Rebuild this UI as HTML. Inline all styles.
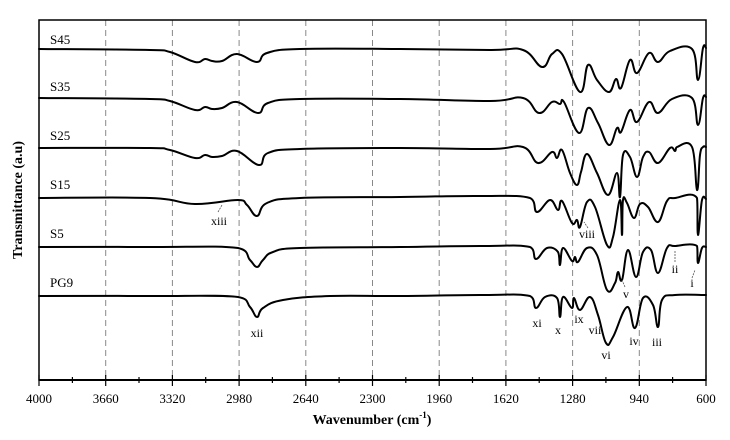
<!DOCTYPE html>
<html><head><meta charset="utf-8"><style>
body{margin:0;background:#fff}
svg{display:block}
text{font-family:"Liberation Serif",serif;fill:#000}
</style></head><body>
<svg width="730" height="440" viewBox="0 0 730 440" xmlns="http://www.w3.org/2000/svg">
<rect x="0" y="0" width="730" height="440" fill="#fff"/>
<g stroke="#888" stroke-width="1" stroke-dasharray="6,4">
<line x1="105.7" y1="20" x2="105.7" y2="380"/><line x1="172.4" y1="20" x2="172.4" y2="380"/>
<line x1="239.1" y1="20" x2="239.1" y2="380"/><line x1="305.8" y1="20" x2="305.8" y2="380"/>
<line x1="372.5" y1="20" x2="372.5" y2="380"/><line x1="439.2" y1="20" x2="439.2" y2="380"/>
<line x1="505.9" y1="20" x2="505.9" y2="380"/><line x1="572.6" y1="20" x2="572.6" y2="380"/>
<line x1="639.3" y1="20" x2="639.3" y2="380"/>
</g>
<rect x="39" y="20" width="667" height="360" fill="none" stroke="#000" stroke-width="1.5"/>
<line x1="39" y1="380" x2="706" y2="380" stroke="#000" stroke-width="2"/>
<g stroke="#000" stroke-width="1.2">
<line x1="39" y1="375" x2="39" y2="386"/><line x1="72.4" y1="377" x2="72.4" y2="383"/>
<line x1="105.7" y1="375" x2="105.7" y2="386"/><line x1="139" y1="377" x2="139" y2="383"/>
<line x1="172.4" y1="375" x2="172.4" y2="386"/><line x1="205.7" y1="377" x2="205.7" y2="383"/>
<line x1="239.1" y1="375" x2="239.1" y2="386"/><line x1="272.4" y1="377" x2="272.4" y2="383"/>
<line x1="305.8" y1="375" x2="305.8" y2="386"/><line x1="339.1" y1="377" x2="339.1" y2="383"/>
<line x1="372.5" y1="375" x2="372.5" y2="386"/><line x1="405.8" y1="377" x2="405.8" y2="383"/>
<line x1="439.2" y1="375" x2="439.2" y2="386"/><line x1="472.5" y1="377" x2="472.5" y2="383"/>
<line x1="505.9" y1="375" x2="505.9" y2="386"/><line x1="539.2" y1="377" x2="539.2" y2="383"/>
<line x1="572.6" y1="375" x2="572.6" y2="386"/><line x1="605.9" y1="377" x2="605.9" y2="383"/>
<line x1="639.3" y1="375" x2="639.3" y2="386"/><line x1="672.6" y1="377" x2="672.6" y2="383"/>
<line x1="706" y1="375" x2="706" y2="386"/>
</g>
<g font-size="13" text-anchor="middle">
<text x="39" y="403">4000</text><text x="105.7" y="403">3660</text><text x="172.4" y="403">3320</text>
<text x="239.1" y="403">2980</text><text x="305.8" y="403">2640</text><text x="372.5" y="403">2300</text>
<text x="439.2" y="403">1960</text><text x="505.9" y="403">1620</text><text x="572.6" y="403">1280</text>
<text x="639.3" y="403">940</text><text x="706" y="403">600</text>
</g>
<text x="372" y="424" font-size="14" font-weight="bold" text-anchor="middle">Wavenumber (cm<tspan font-size="9" dy="-6">-1</tspan><tspan dy="6">)</tspan></text>
<text transform="translate(22,200) rotate(-90)" font-size="14" font-weight="bold" text-anchor="middle">Transmittance (a.u)</text>
<g font-size="13">
<text x="50" y="44">S45</text><text x="50" y="91">S35</text><text x="50" y="140">S25</text>
<text x="50" y="189">S15</text><text x="50" y="238">S5</text><text x="50" y="287">PG9</text>
</g>
<g id="tr" fill="none" stroke="#000" stroke-width="2" stroke-linejoin="round" stroke-linecap="round">
<path d="M39,49 L150,50 L170,52 L195,62 L205,59 L212,61 L222,61 L237,54 L257,62 L267,53 L300,49 L400,49 L490,50 L523,50 L542,67 L552,54 L562,54 L580,92 L588,65 L597,80 L609,92 L616,79 L621,88 L630,60 L637,73 L649,53 L658,62 L670,51 L692,49 L698,80 L703,48 L706,48"/>
<path d="M39,98 L150,99 L170,101 L195,110 L205,107 L212,109 L222,108 L237,102 L258,113 L268,103 L300,99 L400,99 L490,101 L523,98 L539,113 L552,102 L560,104 L564,102 L579,133 L588,108 L598,123 L609,145 L617,128 L621,132 L630,110 L637,122 L649,102 L658,113 L672,99 L692,98 L698,125 L703,98 L706,97"/>
<path d="M39,148 L150,148 L170,150 L195,158 L205,155 L212,157 L222,156 L237,151 L259,165 L268,153 L300,149 L400,148 L490,149 L523,147 L538,163 L552,152 L557,158 L562,150 L570,173 L577,185 L581,172 L587,154 L597,173 L608,195 L617,173 L620,197 L623,155 L630,157 L637,177 L643,157 L649,152 L658,163 L670,148 L675,151 L677,147 L692,147 L697,190 L700,155 L703,147 L706,147"/>
<path d="M39,198 L150,198 L195,204 L238,200 L247,205 L257,216 L267,203 L300,198 L400,197 L480,196 L530,198 L537,212 L550,200 L558,210 L562,201 L572,223 L577,220 L580,227 L587,202 L595,207 L607,245 L613,237 L620,200 L622,235 L623,200 L627,203 L634,218 L640,204 L648,207 L658,222 L667,201 L675,198 L697,198 L698,235 L702,200 L706,199"/>
<path d="M39,247 L150,247 L238,248 L250,260 L257,267 L263,260 L273,252 L300,248 L400,247 L480,246 L530,247 L536,259 L547,248 L558,252 L560,265 L563,248 L572,261 L575,257 L578,262 L587,248 L597,255 L607,290 L615,283 L618,272 L622,280 L628,250 L636,277 L643,252 L651,250 L658,273 L667,248 L675,246 L697,246 L698,263 L702,248 L706,247"/>
<path d="M39,296 L150,296 L238,297 L250,307 L257,317 L263,308 L283,300 L330,296 L400,296 L480,295 L530,296 L536,308 L545,297 L557,298 L560,317 L563,297 L572,308 L574,298 L580,310 L590,297 L598,315 L606,343 L613,337 L627,307 L635,328 L643,298 L653,305 L658,327 L662,300 L675,295 L706,295"/>
</g>
<g stroke="#555" stroke-width="0.8" stroke-dasharray="2,1">
<line x1="218" y1="212" x2="222" y2="205"/><line x1="588" y1="228" x2="584" y2="222"/>
<line x1="625" y1="287" x2="622" y2="280"/><line x1="675" y1="262" x2="675" y2="250"/>
<line x1="692" y1="278" x2="695" y2="270"/>
</g>
<g font-size="12" text-anchor="middle">
<text x="219" y="225">xiii</text><text x="257" y="337">xii</text>
<text x="537" y="327">xi</text><text x="558" y="334">x</text><text x="579" y="323">ix</text>
<text x="595" y="334">vii</text><text x="606" y="359">vi</text><text x="634" y="345">iv</text>
<text x="657" y="346">iii</text><text x="626" y="298">v</text><text x="587" y="238">viii</text>
<text x="675" y="273">ii</text><text x="692" y="287">i</text>
</g>
</svg>
<script>
document.querySelectorAll('#tr path').forEach(function(p){
  var nums=p.getAttribute('d').match(/-?\d+(\.\d+)?/g).map(Number);
  var pts=[];for(var i=0;i<nums.length;i+=2)pts.push([nums[i],nums[i+1]]);
  var d='M'+pts[0][0]+','+pts[0][1];
  var t=0.2;
  for(var i=0;i<pts.length-1;i++){
    var p0=pts[Math.max(0,i-1)],p1=pts[i],p2=pts[i+1],p3=pts[Math.min(pts.length-1,i+2)];
    var c1x=p1[0]+(p2[0]-p0[0])*t,c1y=p1[1]+(p2[1]-p0[1])*t;
    var c2x=p2[0]-(p3[0]-p1[0])*t,c2y=p2[1]-(p3[1]-p1[1])*t;
    c1x=Math.min(Math.max(c1x,p1[0]),p2[0]);c2x=Math.min(Math.max(c2x,p1[0]),p2[0]);
    d+=' C'+c1x.toFixed(1)+','+c1y.toFixed(1)+' '+c2x.toFixed(1)+','+c2y.toFixed(1)+' '+p2[0]+','+p2[1];
  }
  p.setAttribute('d',d);
});
</script>
</body></html>
